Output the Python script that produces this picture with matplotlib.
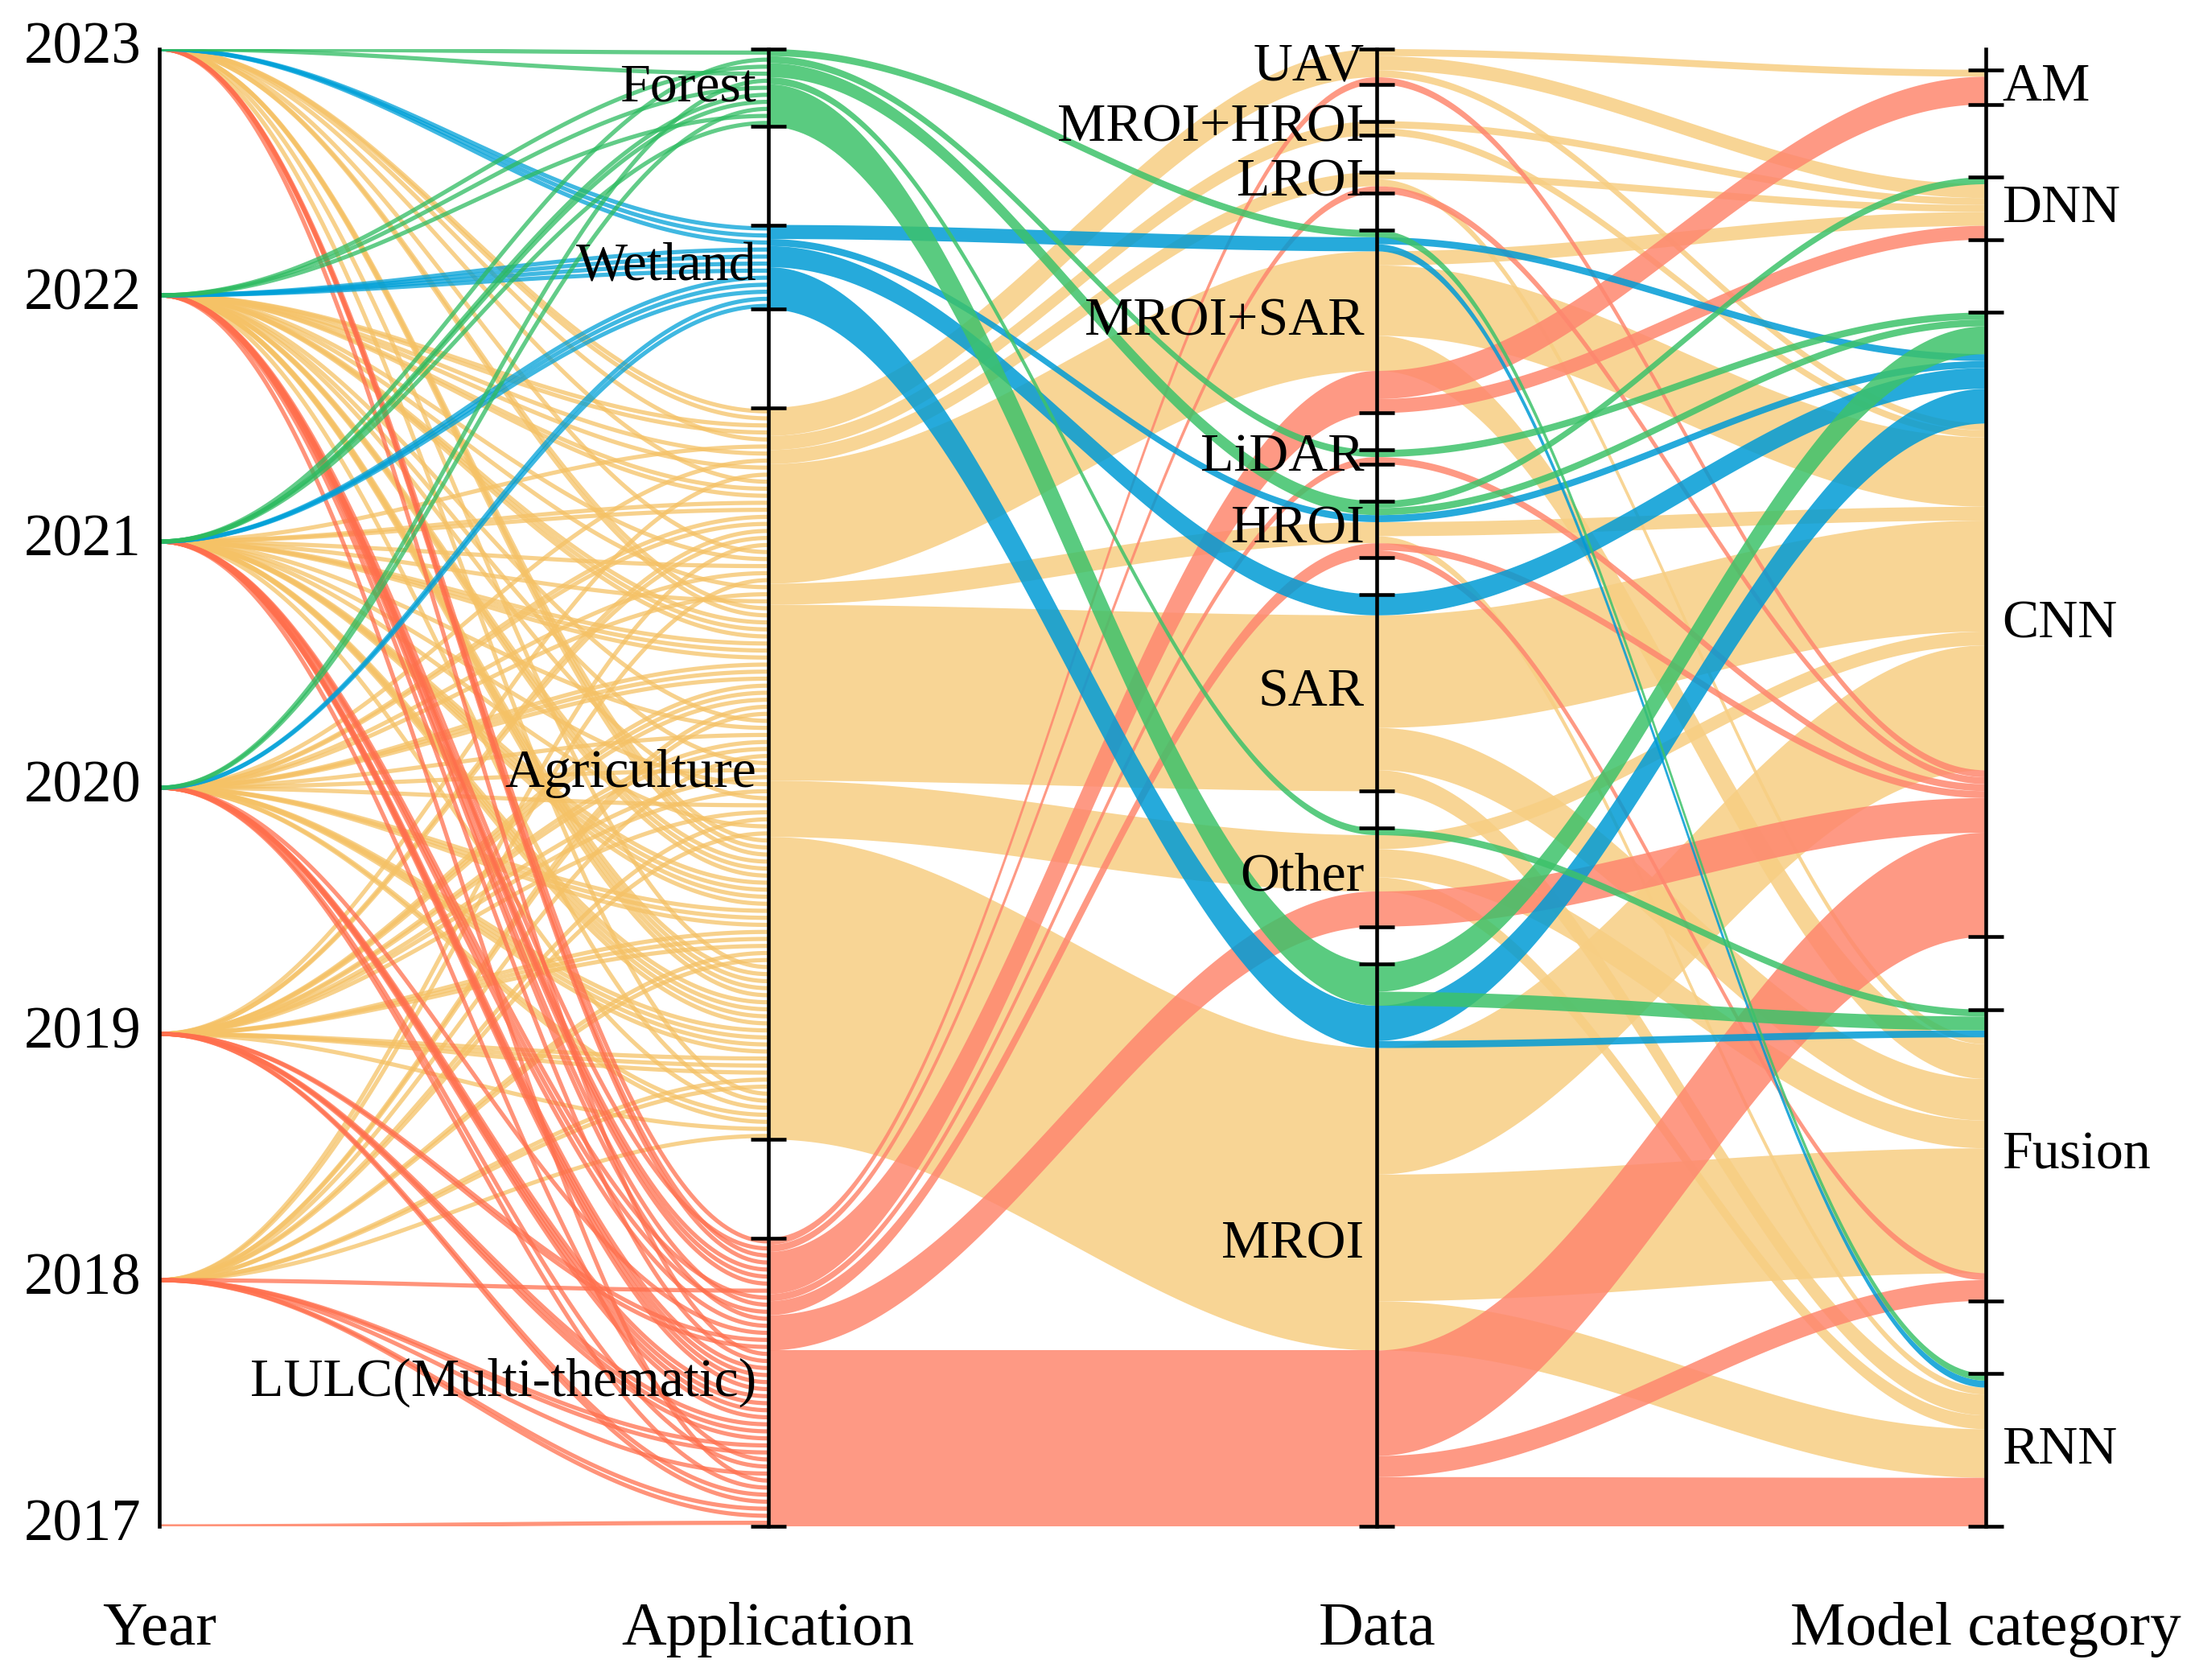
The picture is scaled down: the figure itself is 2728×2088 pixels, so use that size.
import numpy as np
import matplotlib.pyplot as plt

plt.rcParams['font.family'] = ['Liberation Serif', 'DejaVu Serif']

years = [2017, 2018, 2019, 2020, 2021, 2022, 2023]
applications = ["Forest", "Wetland", "Agriculture", "LULC(Multi-thematic)"]
data_sources = ["UAV", "MROI+HROI", "LROI", "MROI+SAR", "LiDAR", "HROI", "SAR", "Other", "MROI"]
model_categories = ["AM", "DNN", "CNN", "Fusion", "RNN"]
axis_titles = ["Year", "Application", "Data", "Model category"]

# papers of each application: (data, model category, publication years)
forest_papers = [
    ("MROI+SAR", "RNN", [2023]),
    ("LiDAR", "CNN", [2021]),
    ("HROI", "DNN", [2022]),
    ("HROI", "CNN", [2023]),
    ("Other", "Fusion", [2020]),
    ("MROI", "CNN", [2022, 2021, 2021, 2020]),
    ("MROI", "Fusion", [2022, 2021]),
]
wetland_papers = [
    ("MROI+SAR", "CNN", [2023]),
    ("MROI+SAR", "RNN", [2023]),
    ("HROI", "CNN", [2023]),
    ("SAR", "CNN", [2022, 2022, 2022]),
    ("MROI", "CNN", [2022, 2021, 2021, 2021, 2020]),
    ("MROI", "Fusion", [2020]),
]
agriculture_papers = [
    ("UAV", "AM", [2023]),
    ("UAV", "DNN", [2023, 2022]),
    ("UAV", "CNN", [2022]),
    ("MROI+HROI", "DNN", [2023]),
    ("MROI+HROI", "CNN", [2021]),
    ("LROI", "DNN", [2022]),
    ("LROI", "Fusion", [2020]),
    ("MROI+SAR", "DNN", [2022, 2019]),
    ("MROI+SAR", "CNN", [2023, 2022, 2022, 2021, 2021, 2020, 2020, 2019, 2019, 2018]),
    ("MROI+SAR", "Fusion", [2023, 2022, 2021, 2020, 2018]),
    ("HROI", "CNN", [2022, 2020]),
    ("HROI", "RNN", [2021]),
    ("SAR", "CNN", [2023, 2023, 2022, 2022, 2022, 2021, 2021, 2021, 2020, 2020, 2020,
                    2019, 2019, 2019, 2018, 2018]),
    ("SAR", "Fusion", [2022, 2021, 2020, 2019, 2019, 2018]),
    ("SAR", "RNN", [2022, 2020, 2019]),
    ("Other", "CNN", [2021, 2019]),
    ("Other", "Fusion", [2022, 2020, 2019, 2018]),
    ("Other", "RNN", [2021, 2018]),
    ("MROI", "CNN", [2023, 2023, 2023, 2022, 2022, 2022, 2021, 2021, 2021, 2021,
                     2020, 2020, 2020, 2019, 2019, 2019, 2018, 2018]),
    ("MROI", "Fusion", [2023, 2022, 2022, 2022, 2022, 2021, 2021, 2021, 2021,
                        2020, 2020, 2020, 2020, 2019, 2019, 2019, 2018, 2018]),
    ("MROI", "RNN", [2023, 2022, 2021, 2020, 2020, 2019, 2018]),
]
lulc_papers = [
    ("UAV", "CNN", [2023]),
    ("LROI", "CNN", [2022]),
    ("MROI+SAR", "AM", [2023, 2023, 2022, 2022]),
    ("MROI+SAR", "DNN", [2022, 2018]),
    ("LiDAR", "CNN", [2021]),
    ("HROI", "CNN", [2022]),
    ("HROI", "Fusion", [2021]),
    ("Other", "CNN", [2022, 2021, 2020, 2019, 2019]),
    ("MROI", "CNN", [2023, 2022, 2021, 2021, 2021, 2021, 2020, 2020, 2020, 2020,
                     2019, 2019, 2019, 2018, 2018]),
    ("MROI", "Fusion", [2021, 2020, 2018]),
    ("MROI", "RNN", [2022, 2020, 2019, 2019, 2018, 2018, 2017]),
]

band_colors = ['#3DC26A', '#009BD5', '#F7CE83', '#FE876F']
line_colors = ['#2DBB60', '#00A0D8', '#F5C266', '#FF6F4D']
draw_order = [2, 3, 1, 0]

# one row per paper: (application, data, model, year)
rows = []
for a, groups in enumerate([forest_papers, wetland_papers, agriculture_papers, lulc_papers]):
    for data, model, yrs in groups:
        for yr in yrs:
            rows.append((a, data_sources.index(data), model_categories.index(model), yr))
rows.sort(key=lambda r: (r[0], r[1], r[2], -r[3]))
n = len(rows)


def layout(col, ncat, top, bottom=0.0):
    span = top - bottom
    unit = 0.8 * span / n
    gap = 0.2 * span / (ncat - 1)
    counts = [sum(1 for r in rows if r[col] == c) for c in range(ncat)]
    segs = []
    y = top
    for c in range(ncat):
        segs.append((y, y - counts[c] * unit))
        y -= counts[c] * unit + gap
    pos = np.zeros((n, 2))
    cursor = [s[0] for s in segs]
    for i, r in enumerate(rows):
        c = r[col]
        pos[i] = (cursor[c], cursor[c] - unit)
        cursor[c] -= unit
    return segs, pos


app_segs, app_pos = layout(0, len(applications), 1.0)
data_segs, data_pos = layout(1, len(data_sources), 1.0)
model_segs, model_pos = layout(2, len(model_categories), 0.986)

t = np.linspace(0, 1, 120)
s = (1 - np.cos(np.pi * t)) / 2


def year_y(yr):
    return (yr - years[0]) / (years[-1] - years[0])


fig = plt.figure(figsize=(2729 / 300, 2088 / 300), dpi=300)
ax = fig.add_axes([198 / 2729, 1 - 1897 / 2088, (2468 - 198) / 2729, (1897 - 61) / 2088])
ax.set_xlim(0, 3)
ax.set_ylim(0, 1)
ax.axis('off')

# Year -> Application: one thin line per paper
for a in draw_order:
    for i, r in enumerate(rows):
        if r[0] != a:
            continue
        y0 = year_y(r[3])
        y1 = app_pos[i].mean()
        ax.plot(t, y0 + (y1 - y0) * s, color=line_colors[a], lw=1.25, alpha=0.75,
                solid_capstyle='butt', zorder=2)


def ribbons(x0, pos0, pos1, keylen):
    for a in draw_order:
        i = 0
        while i < n:
            if rows[i][0] != a:
                i += 1
                continue
            j = i
            while j + 1 < n and rows[j + 1][:keylen] == rows[i][:keylen]:
                j += 1
            yt = pos0[i, 0] + (pos1[i, 0] - pos0[i, 0]) * s
            yb = pos0[j, 1] + (pos1[j, 1] - pos0[j, 1]) * s
            xs = x0 + t
            ax.fill(np.r_[xs, xs[::-1]], np.r_[yt, yb[::-1]], color=band_colors[a],
                    alpha=0.85, lw=0, zorder=2)
            i = j + 1


ribbons(1, app_pos, data_pos, 2)
ribbons(2, data_pos, model_pos, 3)

# axes, ticks and labels
lw = 1.1
tk = 0.029
for x in range(4):
    ax.plot([x, x], [0, 1], color='black', lw=lw, zorder=5, clip_on=False)

for x, segs in [(1, app_segs), (2, data_segs), (3, model_segs)]:
    for top, bot in segs:
        for y in (top, bot):
            ax.plot([x - tk, x + tk], [y, y], color='black', lw=lw, zorder=5,
                    solid_capstyle='butt', clip_on=False)

for yr in years:
    ax.text(-0.03, year_y(yr), str(yr), ha='right', va='center', fontsize=17.5, zorder=6)

for name, (top, bot) in zip(applications, app_segs):
    ax.text(1 - 0.019, (top + bot) / 2, name, ha='right', va='center', fontsize=16.3, zorder=6)

for name, (top, bot) in zip(data_sources, data_segs):
    ax.text(2 - 0.021, (top + bot) / 2, name, ha='right', va='center', fontsize=16.3, zorder=6)

for name, (top, bot) in zip(model_categories, model_segs):
    ax.text(3 + 0.027, (top + bot) / 2, name, ha='left', va='center', fontsize=16.3, zorder=6)

for x, name in enumerate(axis_titles):
    ax.text(x, -0.07, name, ha='center', va='center', fontsize=18.5)

fig.savefig('out.png', dpi=300)
